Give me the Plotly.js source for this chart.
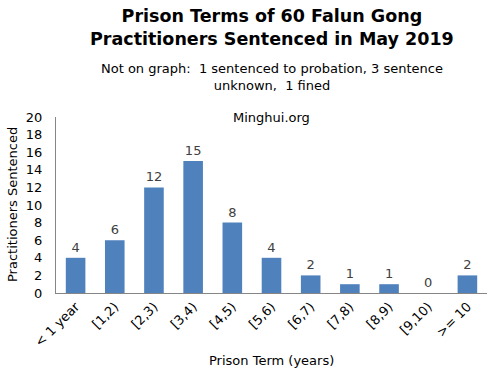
<!DOCTYPE html>
<html>
<head>
<meta charset="utf-8">
<script src="https://cdn.plot.ly/plotly-3.0.1.min.js"></script>
<style>body{margin:0;padding:0;background:#fff}#chart{width:500px;height:377px}</style>
</head>
<body>
<div id="chart"></div>
<script>
const categories = ["< 1 year", "[1,2)", "[2,3)", "[3,4)", "[4,5)", "[5,6)", "[6,7)", "[7,8)", "[8,9)", "[9,10)", ">= 10"];
const counts = [4, 6, 12, 15, 8, 4, 2, 1, 1, 0, 2];
const yTicks = [0, 2, 4, 6, 8, 10, 12, 14, 16, 18, 20];

const FONT = "DejaVu Sans, Verdana, sans-serif";
const trace = {
  type: "bar",
  x: categories,
  y: counts,
  marker: {color: "#4f81bd"},
  text: counts.map(String),
  textposition: "outside",
  textfont: {family: FONT, size: 13, color: "#404040"},
  cliponaxis: false,
  hoverinfo: "x+y"
};

const W = 500, H = 377, ML = 56, MR = 13, MT = 117, MB = 84;
const pw = W - ML - MR, ph = H - MT - MB;

const layout = {
  width: W, height: H,
  margin: {l: ML, r: MR, t: MT, b: MB},
  paper_bgcolor: "#fff", plot_bgcolor: "#fff",
  font: {family: FONT, size: 13, color: "#000"},
  bargap: 0.5,
  showlegend: false,
  xaxis: {
    type: "category",
    tickangle: -45,
    showline: true, linecolor: "#868686", linewidth: 1,
    ticks: "", showgrid: false, zeroline: false,
    tickfont: {family: FONT, size: 13, color: "#000"}
  },
  yaxis: {
    range: [0, 20],
    tickvals: yTicks,
    ticktext: yTicks.map(String),
    showline: true, linecolor: "#868686", linewidth: 1,
    ticks: "", showgrid: false, zeroline: false,
    ticklabelstandoff: 10,
    tickfont: {family: FONT, size: 13, color: "#000"}
  },
  annotations: [
    {text: "<b>Prison Terms of 60 Falun Gong<br>Practitioners Sentenced in May 2019</b>",
     xref: "paper", yref: "paper", x: 0.5, y: 1 + (MT - 4) / ph, xanchor: "center", yanchor: "top",
     font: {family: FONT, size: 17.5, color: "#000"}, showarrow: false},
    {text: "Not on graph:  1 sentenced to probation, 3 sentence<br>unknown,  1 fined",
     xref: "paper", yref: "paper", x: 0.5, y: 1 + (MT - 59) / ph, xanchor: "center", yanchor: "top",
     font: {family: FONT, size: 13, color: "#000"}, showarrow: false},
    {text: "Minghui.org", xref: "paper", yref: "paper", x: 0.5, y: 1, xanchor: "center", yanchor: "middle",
     font: {family: FONT, size: 13, color: "#000"}, showarrow: false},
    {text: "Practitioners Sentenced", xref: "paper", yref: "paper",
     x: (12 - ML) / pw, y: 0.5, xanchor: "center", yanchor: "middle", textangle: -90,
     font: {family: FONT, size: 13, color: "#000"}, showarrow: false},
    {text: "Prison Term (years)", xref: "paper", yref: "paper",
     x: 0.5, y: -(360 - (MT + ph)) / ph, xanchor: "center", yanchor: "middle",
     font: {family: FONT, size: 13, color: "#000"}, showarrow: false}
  ]
};

Plotly.newPlot("chart", [trace], layout, {staticPlot: true});
</script>
</body>
</html>
